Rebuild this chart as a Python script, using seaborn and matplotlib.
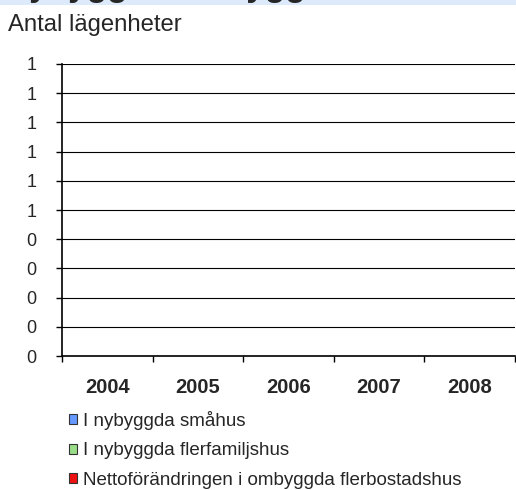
import numpy as np
import pandas as pd
import matplotlib
matplotlib.use('Agg')
import matplotlib.pyplot as plt
from matplotlib.patches import Patch, Rectangle
from matplotlib.ticker import FuncFormatter, FixedLocator
import seaborn as sns

ar = ['2004', '2005', '2006', '2007', '2008']
serier = ['I nybyggda småhus', 'I nybyggda flerfamiljshus',
          'Nettoförändringen i ombyggda flerbostadshus']
smahus = [0, 0, 0, 0, 0]
flerfamiljshus = [0, 0, 0, 0, 0]
ombyggda = [0, 0, 0, 0, 0]
farger = ['#6699ff', '#99dd88', '#ee1111']

df = pd.DataFrame({
    'År': ar * 3,
    'Antal': smahus + flerfamiljshus + ombyggda,
    'Typ': [serier[0]] * 5 + [serier[1]] * 5 + [serier[2]] * 5,
})

sns.set_style('white')
plt.rcParams['font.family'] = ['Liberation Sans', 'DejaVu Sans']

fig = plt.figure(figsize=(5.16, 4.90), dpi=100)
ax = fig.add_axes([62 / 516, 1 - 356 / 490, 1 - 62 / 516 - 0.002, (356 - 64) / 490])

sns.barplot(data=df, x='År', y='Antal', hue='Typ', palette=farger,
            ax=ax, legend=False, linewidth=0)

ax.set_ylim(0, 1)
ax.set_xlim(-0.5, 4.5)
ax.yaxis.set_major_locator(FixedLocator(np.linspace(0, 1, 11)))
ax.yaxis.set_major_formatter(FuncFormatter(lambda v, p: f'{int(np.floor(v + 0.5 + 1e-9))}'))
ax.grid(axis='y', color='black', linewidth=0.8)
ax.set_axisbelow(True)

ax.set_xticks(np.arange(-0.5, 5, 1))
ax.set_xticklabels([])
ax.set_xticks(range(5), minor=True)
ax.set_xticklabels(ar, minor=True, fontsize=14.5, fontweight='bold')
ax.tick_params(axis='x', which='minor', bottom=False, length=0, pad=15.5)
ax.tick_params(axis='x', which='major', bottom=True, length=4.3, width=1,
               color='black', direction='out')
ax.tick_params(axis='y', left=True, length=4.3, width=1, color='black',
               direction='out', labelsize=13, pad=14)
ax.set_xlabel('')
ax.set_ylabel('')

for s in ['top', 'right']:
    ax.spines[s].set_visible(False)
for s in ['left', 'bottom']:
    ax.spines[s].set_color('black')
    ax.spines[s].set_linewidth(1.2)

# titelband överst (avskuret)
fig.patches.append(Rectangle((0, 1 - 5 / 490), 1, 5 / 490, transform=fig.transFigure,
                             facecolor='#dceafb', edgecolor='none'))
fig.text(6 / 516, 1 + 4 / 490, 'Nybyggda/ombyggda', fontsize=24, fontweight='bold',
         va='baseline', ha='left')

fig.text(8 / 516, 1 - 25 / 490, 'Antal lägenheter', fontsize=17.2, va='center', ha='left')

handles = [Patch(facecolor=c, edgecolor='#333333', linewidth=0.8) for c in farger]
fig.legend(handles, serier, loc='upper left', bbox_to_anchor=(69 / 516, 1 - 411 / 490),
           frameon=False, fontsize=13.5, handlelength=0.45, handleheight=0.45,
           handletextpad=0.3, labelspacing=0.66, borderpad=0, borderaxespad=0)

fig.savefig('out.png', dpi=100)
